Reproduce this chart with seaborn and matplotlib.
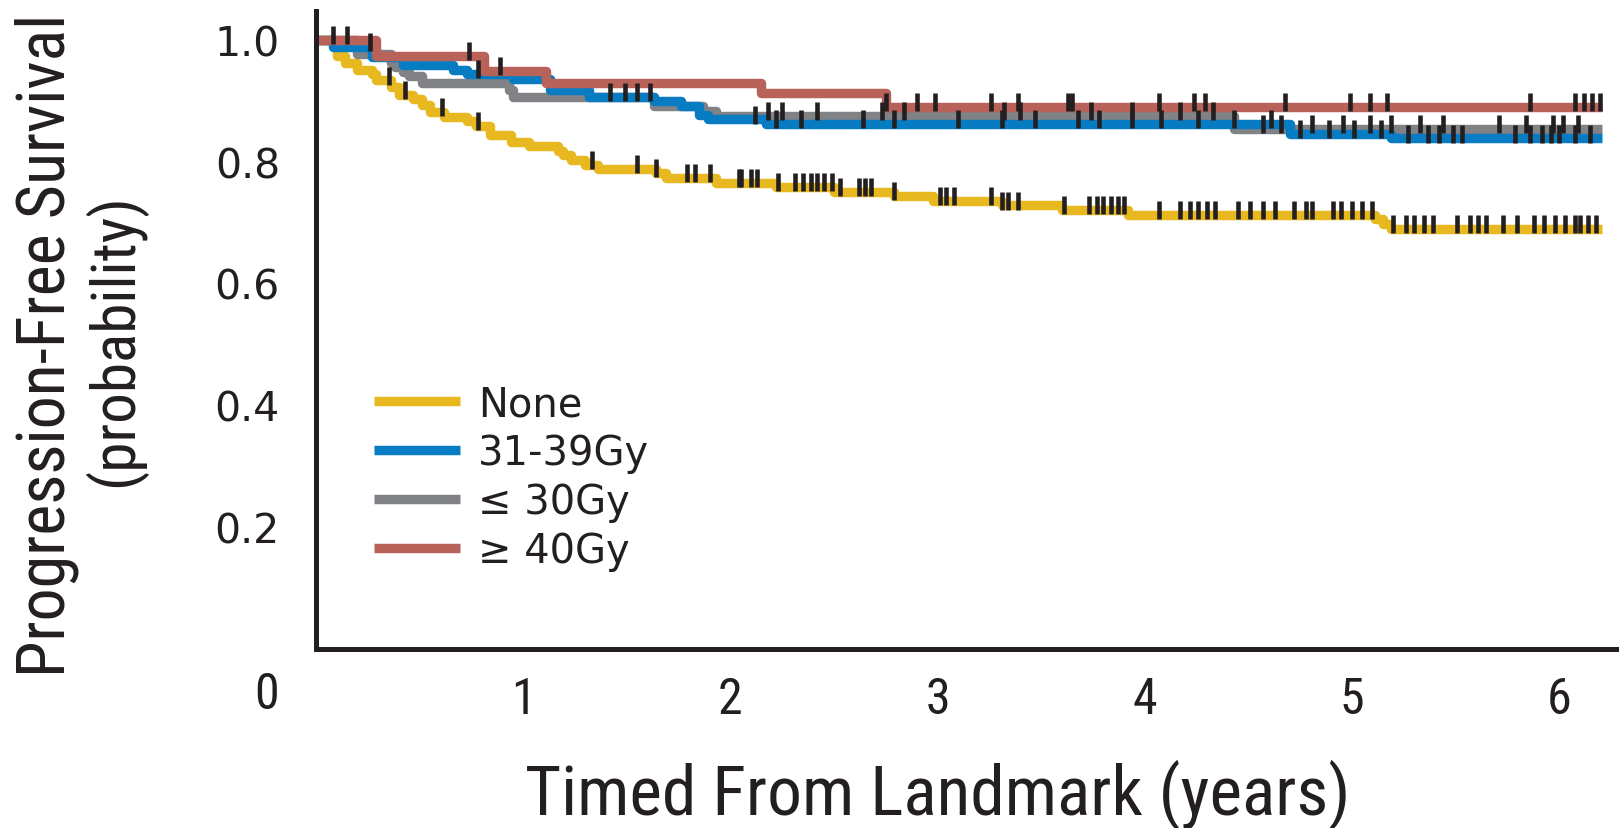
import numpy as np
import pandas as pd
import seaborn as sns
import matplotlib.pyplot as plt
from matplotlib.lines import Line2D

# Kaplan-Meier steps: time of each drop (years) and survival after it
none_time = [0.0, 0.10, 0.14, 0.20, 0.27, 0.29, 0.36, 0.40, 0.47, 0.51, 0.55, 0.62, 0.73,
             0.77, 0.84, 0.94, 1.03, 1.17, 1.19, 1.23, 1.30, 1.36, 1.64, 1.69, 1.93, 2.22,
             2.50, 2.79, 2.98, 3.31, 3.60, 3.92, 5.11, 5.15, 5.19]
none_surv = [1.0, 0.974, 0.962, 0.951, 0.944, 0.933, 0.922, 0.910, 0.903, 0.892, 0.881,
             0.873, 0.866, 0.858, 0.843, 0.832, 0.826, 0.817, 0.810, 0.802, 0.795, 0.788,
             0.781, 0.773, 0.765, 0.758, 0.750, 0.743, 0.736, 0.728, 0.721, 0.713, 0.705,
             0.697, 0.689]
none_cens = [0.35, 0.43, 0.61, 0.78, 1.33, 1.55, 1.64, 1.79, 1.83, 1.90, 2.04, 2.05, 2.10,
             2.13, 2.23, 2.31, 2.35, 2.39, 2.42, 2.45, 2.49, 2.53, 2.62, 2.65, 2.68, 2.79,
             3.01, 3.04, 3.08, 3.26, 3.31, 3.34, 3.39, 3.61, 3.73, 3.77, 3.80, 3.84, 3.87,
             3.90, 4.07, 4.17, 4.22, 4.26, 4.30, 4.34, 4.45, 4.51, 4.57, 4.63, 4.72, 4.78,
             4.81, 4.91, 4.95, 5.00, 5.05, 5.10, 5.20, 5.26, 5.30, 5.35, 5.39, 5.51, 5.57,
             5.61, 5.65, 5.73, 5.80, 5.88, 5.93, 5.98, 6.03, 6.08, 6.10, 6.14, 6.18]

mid_time = [0.0, 0.08, 0.27, 0.42, 0.66, 0.73, 0.95, 1.13, 1.32, 1.63, 1.76, 1.85, 1.89,
            2.17, 4.70, 5.19]
mid_surv = [1.0, 0.988, 0.972, 0.958, 0.951, 0.944, 0.936, 0.917, 0.906, 0.899, 0.891,
            0.876, 0.869, 0.861, 0.846, 0.838]
mid_cens = [0.26, 0.78, 1.42, 1.55, 2.12, 2.22, 2.34, 2.64, 2.79, 3.10, 3.31, 3.47, 3.68,
            3.78, 3.94, 4.08, 4.26, 4.43, 4.61, 4.75, 4.89, 5.01, 5.14, 5.27, 5.37, 5.42,
            5.49, 5.53, 5.79, 5.86, 5.92, 5.96, 6.00, 6.08, 6.15]

low_time = [0.0, 0.20, 0.36, 0.38, 0.42, 0.45, 0.51, 0.93, 0.95, 1.63, 1.87, 1.93, 4.43]
low_surv = [1.0, 0.976, 0.962, 0.955, 0.947, 0.940, 0.929, 0.917, 0.906, 0.891, 0.883,
            0.875, 0.853]
low_cens = [1.49, 1.61, 2.18, 2.25, 2.42, 2.73, 2.84, 3.32, 3.40, 3.74, 3.94, 4.17, 4.33,
            4.57, 4.66, 4.81, 4.96, 5.09, 5.19, 5.33, 5.44, 5.71, 5.84, 5.97, 6.02, 6.09]

high_time = [0.0, 0.29, 0.81, 1.11, 2.15, 2.75]
high_surv = [1.0, 0.973, 0.949, 0.929, 0.913, 0.890]
high_cens = [0.08, 0.15, 0.74, 0.89, 2.75, 2.90, 2.99, 3.26, 3.39, 3.63, 3.65, 4.07, 4.24,
             4.29, 4.68, 4.99, 5.09, 5.17, 5.86, 6.08, 6.12, 6.16, 6.20]

end_time = 6.21

groups = ["None", "31-39Gy", "\u2264 30Gy", "\u2265 40Gy"]
colors = {"None": "#E8B820", "31-39Gy": "#087CC2",
          "\u2264 30Gy": "#808285", "\u2265 40Gy": "#B8625A"}
curves = {"None": (none_time, none_surv, none_cens),
          "31-39Gy": (mid_time, mid_surv, mid_cens),
          "\u2264 30Gy": (low_time, low_surv, low_cens),
          "\u2265 40Gy": (high_time, high_surv, high_cens)}
draw_order = ["None", "\u2264 30Gy", "31-39Gy", "\u2265 40Gy"]

NARROW = ["Roboto Condensed", "DejaVu Sans"]
INK = "#231F20"

sns.set_style("white")
plt.rcParams["font.family"] = ["DejaVu Sans"]

fig = plt.figure(figsize=(16.19, 8.29), dpi=100)
ax = fig.add_axes([0.1952, 0.2159, 0.8048, 0.7696])

for name in draw_order:
    t, s, c = curves[name]
    df = pd.DataFrame({"time": t + [end_time], "surv": s + [s[-1]]})
    sns.lineplot(data=df, x="time", y="surv", color=colors[name], linewidth=6.8,
                 drawstyle="steps-post", estimator=None, ax=ax, zorder=2,
                 solid_capstyle="butt")
    # censor ticks sit on the curve, poking a little above it
    idx = np.searchsorted(t, c, side="right") - 1
    cy = np.asarray(s)[idx] + 0.008
    sns.scatterplot(x=c, y=cy, marker="|", s=175, color=INK, edgecolor=INK,
                    linewidth=3.3, ax=ax, zorder=4, legend=False)

ax.set_xlim(0, 6.29)
ax.set_ylim(0, 1.047)
ax.set_xticks([1, 2, 3, 4, 5, 6])
ax.set_xticklabels(["1", "2", "3", "4", "5", "6"], family=NARROW, fontsize=36)
ax.set_yticks([0.2, 0.4, 0.6, 0.8, 1.0])
ax.set_yticklabels(["0.2", "0.4", "0.6", "0.8", "1.0"], fontsize=29.5)
ax.tick_params(axis="both", direction="out", length=16, width=3.4, color=INK,
               labelcolor=INK)
ax.tick_params(axis="y", pad=10)
ax.tick_params(axis="x", pad=3)
ax.set_xlabel("")
ax.set_ylabel("")
for side in ["top", "right"]:
    ax.spines[side].set_visible(False)
for side in ["left", "bottom"]:
    ax.spines[side].set_linewidth(3.6)
    ax.spines[side].set_color(INK)

ax.text(-0.24, -0.0705, "0", transform=ax.get_xaxis_transform(), family=NARROW,
        fontsize=36, ha="center", va="center", color=INK)

handles = [Line2D([], [], color=colors[g], linewidth=6.8, solid_capstyle="butt")
           for g in groups]
ax.legend(handles, groups, loc="upper left", bbox_to_anchor=(0.032, 0.44), frameon=False,
          fontsize=28.8, handlelength=2.15, handletextpad=0.45, labelspacing=0.22,
          borderaxespad=0, labelcolor=INK)

fig.text(0.579, 0.041, "Timed From Landmark (years)", family=NARROW, fontsize=50,
         ha="center", va="center", color=INK)
fig.text(0.029, 0.583, "Progression-Free Survival", family=NARROW, fontsize=47.5,
         rotation=90, ha="center", va="center", color=INK)
fig.text(0.071, 0.590, "(probability)", family=NARROW, fontsize=44,
         rotation=90, ha="center", va="center", color=INK)

fig.savefig("out.png", dpi=100)
